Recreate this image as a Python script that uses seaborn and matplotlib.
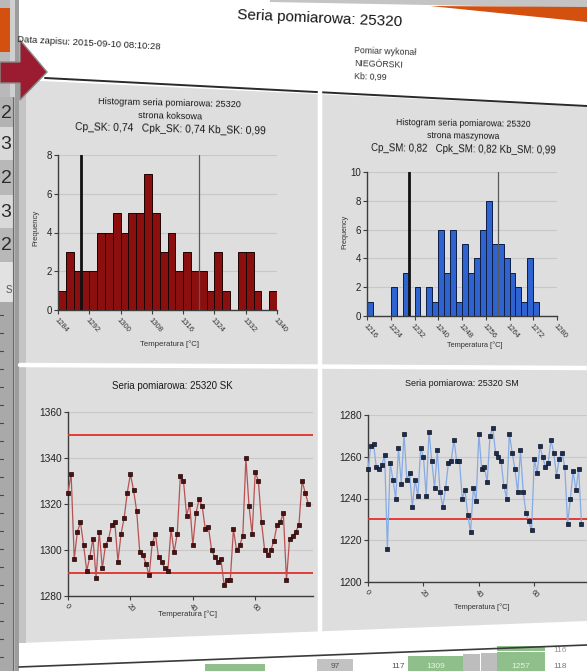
import numpy as np
import pandas as pd
import matplotlib
matplotlib.use("Agg")
import matplotlib.pyplot as plt
from matplotlib.patches import Polygon, Rectangle
import seaborn as sns

# ---- data -------------------------------------------------------------
series_id = "25320"

# histogram counts, 2 °C bins
sk_bin_start = 1284
sk_counts = [1, 3, 2, 2, 2, 4, 4, 5, 4, 5, 5, 7, 5, 3, 4, 2, 3, 2, 2, 1,
             3, 1, 0, 3, 3, 1, 0, 1]
sm_bin_start = 1216
sm_counts = [1, 0, 0, 0, 2, 0, 3, 0, 2, 0, 2, 1, 6, 3, 6, 1, 5, 3, 4, 6,
             8, 5, 5, 4, 3, 2, 1, 4, 1]
bin_width = 2

sk_xticks = [1284, 1292, 1300, 1308, 1316, 1324, 1332, 1340]
sm_xticks = [1216, 1224, 1232, 1240, 1248, 1256, 1264, 1272, 1280]

# measurement series (coke side / machine side)
sk_series = [1325, 1333, 1296, 1308, 1312, 1302, 1291, 1297, 1305, 1288,
             1308, 1292, 1302, 1305, 1311, 1312, 1295, 1307, 1314, 1325,
             1333, 1326, 1317, 1299, 1298, 1294, 1289, 1303, 1307, 1297,
             1295, 1292, 1291, 1309, 1299, 1307, 1332, 1330, 1315, 1320,
             1302, 1316, 1322, 1319, 1309, 1310, 1300, 1297, 1295, 1296,
             1285, 1287, 1287, 1309, 1300, 1302, 1306, 1340, 1319, 1307,
             1334, 1330, 1312, 1300, 1298, 1300, 1304, 1311, 1312, 1316,
             1287, 1305, 1306, 1308, 1311, 1330, 1325, 1320]
sm_series = [1254, 1265, 1266, 1255, 1254, 1256, 1261, 1216, 1257, 1249,
             1240, 1264, 1247, 1271, 1249, 1252, 1236, 1249, 1241, 1264,
             1260, 1241, 1272, 1258, 1245, 1263, 1243, 1236, 1245, 1257,
             1258, 1268, 1258, 1258, 1240, 1244, 1232, 1224, 1245, 1239,
             1271, 1254, 1255, 1248, 1270, 1274, 1262, 1260, 1258, 1246,
             1240, 1271, 1262, 1254, 1243, 1263, 1243, 1233, 1229, 1225,
             1259, 1252, 1265, 1260, 1255, 1257, 1268, 1262, 1251, 1259,
             1262, 1255, 1228, 1240, 1253, 1244, 1254, 1228]

sk_lsl, sk_usl, sk_ref = 1290, 1350, 1320
sm_lsl, sm_ref = 1230, 1260

sk_stats = "Cp_SK: 0,74   Cpk_SK: 0,74 Kb_SK: 0,99"
sm_stats = "Cp_SM: 0,82   Cpk_SM: 0,82 Kb_SM: 0,99"
saved_at = "Data zapisu: 2015-09-10 08:10:28"
operator = ["Pomiar wykonał", "NIEGÓRSKI", "Kb: 0,99"]

left_cells = ["2", "3", "2", "3", "2"]
table_vals = ["97", "117", "1309", "1257", "118"]

# ---- style ------------------------------------------------------------
sns.set_style("ticks")
plt.rcParams["font.family"] = ["Liberation Sans", "DejaVu Sans"]

W, H = 587, 671
fig = plt.figure(figsize=(W / 100, H / 100), dpi=100, facecolor="white")

bg = fig.add_axes([0, 0, 1, 1], zorder=0)
bg.set_xlim(0, W)
bg.set_ylim(H, 0)
bg.axis("off")


def box(l, t, r, b):
    return [l / W, 1 - b / H, (r - l) / W, (b - t) / H]


def poly(pts, **kw):
    bg.add_patch(Polygon(pts, closed=True, **kw))


# left spreadsheet strip
bg.add_patch(Rectangle((0, 0), 17, H, color="#b9b9b9", lw=0))
bg.add_patch(Rectangle((0, 8), 10, 44, color="#d4500f", lw=0))
bg.add_patch(Rectangle((10, 0), 7, 97, color="#cfcfcf", lw=0))
row_edges = [97, 127, 160, 195, 228, 262]
row_cols = ["#b3b3b3", "#d9d9d9", "#b8b8b8", "#d9d9d9", "#b8b8b8"]
for i, (txt, c) in enumerate(zip(left_cells, row_cols)):
    y0, y1 = row_edges[i], row_edges[i + 1]
    bg.add_patch(Rectangle((0, y0), 13, y1 - y0, color=c, lw=0))
    t = bg.text(6, (y0 + y1) / 2 + 1, txt, fontsize=14, ha="center",
                va="center", color="#2b2b2b")
    t.set_clip_path(Rectangle((0, y0), 12, y1 - y0, transform=bg.transData))
bg.add_patch(Rectangle((0, 262), 13, 40, color="#e2e2e2", lw=0))
bg.text(9, 290, "S", fontsize=7, color="#555555", ha="center", va="center")
bg.add_patch(Rectangle((0, 302), 13, H - 302, color="#a9a9a9", lw=0))
for yy in np.arange(315, H, 18):
    bg.plot([0, 3], [yy, yy], color="#444444", lw=0.8)
bg.plot([13, 13], [97, H], color="#6a6a6a", lw=0.8)
bg.add_patch(Rectangle((15, 0), 4, H, color="#9d9d9d", lw=0))

# top right tabs
poly([(270, 0), (W, 0), (W, 8), (270, 2)], color="#c4c4c4", lw=0)
poly([(430, 6), (W, 7), (W, 22)], color="#d4500f", lw=0)

# red arrow
poly([(0, 62), (20, 62), (20, 40), (47, 72), (20, 100), (20, 83), (0, 83)],
     facecolor="#9b1c30", edgecolor="#8a8a8a", lw=1.0, zorder=3)

# grey report body, white gutters
poly([(20, 80), (W, 107), (W, 621), (20, 643)], color="#dedede", lw=0)
bg.plot([45, W], [78, 106], color="#2a2a2a", lw=1.4)
bg.plot([320, 320], [90, 634], color="white", lw=3.2)
bg.plot([20, W], [365, 368], color="white", lw=3.2)
poly([(19, 80), (26, 80), (26, 643), (19, 643)], color="#c4c4c4", lw=0)

# bottom table strip
poly([(19, 667), (W, 645), (W, H), (19, H)], color="white", lw=0)
bg.plot([19, W], [667, 645], color="#3a3a3a", lw=1.2)
cells = [(205, 265, "#8fbf8a", None), (317, 353, "#c2c2c2", table_vals[0]),
         (408, 463, "#8fbf8a", table_vals[2]), (463, 480, "#bdbdbd", None),
         (481, 497, "#bdbdbd", None), (497, 545, "#8fbf8a", table_vals[3])]
for x0, x1, c, txt in cells:
    ytop = 667 - (x0 - 19) * 22 / (W - 19) + 4
    bg.add_patch(Rectangle((x0, ytop), x1 - x0, H - ytop, color=c, lw=0,
                           zorder=1))
    if txt:
        bg.text((x0 + x1) / 2, 667, txt, fontsize=6, ha="center",
                va="center", color="#e8f3e6" if c == "#8fbf8a" else "#555")
bg.add_patch(Rectangle((497, 646), 48, 5, color="#8fbf8a", lw=0))
bg.text(405, 666, table_vals[1], fontsize=6, ha="right", va="center",
        color="#555555")
bg.text(553, 666, table_vals[4], fontsize=6, ha="left", va="center",
        color="#777777")
bg.text(553, 651, "116", fontsize=6, ha="left", va="center", color="#999999")

# header
bg.text(320, 19, f"Seria pomiarowa: {series_id}", fontsize=11, ha="center",
        va="center", rotation=-2.5, rotation_mode="anchor", color="#151515")
bg.text(17, 40, saved_at, fontsize=6.8, ha="left", va="center",
        rotation=-3, rotation_mode="anchor", color="#222222")
for i, line in enumerate(operator):
    bg.text(354, 51 + 12.5 * i, line, fontsize=6.3, ha="left", va="center",
            rotation=-2, rotation_mode="anchor", color="#333333")

# ---- chart helpers ----------------------------------------------------
spine_col = "#3c3c3c"
grid_col = "#c8c8c8"


def style_axes(ax, xlabsize=5.5, ylabsize=7):
    ax.set_facecolor("none")
    for s in ("top", "right"):
        ax.spines[s].set_visible(False)
    for s in ("left", "bottom"):
        ax.spines[s].set_color(spine_col)
        ax.spines[s].set_linewidth(1.0)
    ax.yaxis.grid(True, color=grid_col, lw=0.8)
    ax.xaxis.grid(False)
    ax.set_axisbelow(True)
    ax.tick_params(axis="both", length=3, width=0.8, color=spine_col, pad=1.5)
    ax.tick_params(axis="y", labelsize=ylabsize, labelcolor="#222222")
    ax.tick_params(axis="x", labelsize=xlabsize, labelcolor="#333333",
                   labelrotation=-48)
    plt.setp(ax.get_xticklabels(), ha="left", va="top",
             rotation_mode="anchor")
    ax.set_xlabel("")
    ax.set_ylabel("")


def histogram(ax, start, counts, color, edge, lsl, ref, xticks, ymax, yticks):
    n = len(counts)
    df = pd.DataFrame({
        "temp": start + bin_width * (np.arange(n) + 0.5),
        "count": counts,
    })
    sns.histplot(data=df, x="temp", weights="count", binwidth=bin_width,
                 binrange=(start, start + bin_width * n), color=color,
                 edgecolor=edge, linewidth=0.7, alpha=1, ax=ax)
    ax.axvline(lsl, color="#111111", lw=2.0, zorder=5)
    ax.axvline(ref, color="#5a5a5a", lw=0.9, zorder=5)
    ax.set_xlim(xticks[0], xticks[-1])
    ax.set_ylim(0, ymax)
    ax.set_xticks(xticks)
    ax.set_yticks(yticks)
    style_axes(ax)


def series(ax, values, line_col, face, edge, limits, ylim, yticks, xmax):
    x = np.arange(len(values))
    sns.lineplot(x=x, y=values, ax=ax, color=line_col, lw=0.9, marker="s",
                 markersize=3.2, markerfacecolor=face, markeredgecolor=edge,
                 markeredgewidth=0.5, zorder=4, clip_on=False)
    for lim in limits:
        ax.axhline(lim, color="#e2312b", lw=1.3, zorder=3)
    ax.set_xlim(0, xmax)
    ax.set_ylim(*ylim)
    ax.set_xticks([0, 20, 40, 60])
    ax.set_yticks(yticks)
    style_axes(ax, xlabsize=5.5, ylabsize=7.3)


# ---- histograms -------------------------------------------------------
ax1 = fig.add_axes(box(58, 155, 277, 310), zorder=2)
histogram(ax1, sk_bin_start, sk_counts, "#8b0f0f", "#1c0202", sk_lsl, sk_ref,
          sk_xticks, 8, [0, 2, 4, 6, 8])

ax2 = fig.add_axes(box(367, 172, 557, 316), zorder=2)
histogram(ax2, sm_bin_start, sm_counts, "#2f63d0", "#0d1d45", sm_lsl, sm_ref,
          sm_xticks, 10, [0, 2, 4, 6, 8, 10])

# ---- series -----------------------------------------------------------
ax3 = fig.add_axes(box(68, 412, 313, 596), zorder=2)
series(ax3, sk_series, "#b85252", "#4a1212", "#240404", [sk_lsl, sk_usl],
       (1280, 1360), [1280, 1300, 1320, 1340, 1360], 78.5)

ax4 = fig.add_axes(box(368, 415, 587, 582), zorder=2)
series(ax4, sm_series, "#86aae4", "#1f2d4c", "#0c1428", [sm_lsl],
       (1200, 1280), [1200, 1220, 1240, 1260, 1280], 79)

# ---- panel titles and axis names --------------------------------------
hist_title = f"Histogram seria pomiarowa: {series_id}"
for cx, ys, side, stats, fs, rot in [
        (170, (103, 116, 129), "strona koksowa", sk_stats, 6.6, -1.3),
        (463, (123, 136, 149), "strona maszynowa", sm_stats, 6.2, -0.8)]:
    bg.text(cx, ys[0], hist_title, fontsize=fs, ha="center", va="center",
            rotation=rot, rotation_mode="anchor", color="#1a1a1a")
    bg.text(cx, ys[1], side, fontsize=fs, ha="center", va="center",
            rotation=rot, rotation_mode="anchor", color="#1a1a1a")
    bg.text(cx, ys[2], stats, fontsize=fs + 0.8, ha="center", va="center",
            rotation=rot, rotation_mode="anchor", color="#1a1a1a")

bg.text(36, 228, "Frequency", fontsize=5.5, rotation=90, ha="center",
        va="center", color="#333333")
bg.text(345, 232, "Frequency", fontsize=5.2, rotation=90, ha="center",
        va="center", color="#333333")

xlab = "Temperatura [°C]"
for cx, cy, fs in [(170, 344, 5.6), (475, 345, 5.3), (187, 614, 5.6),
                   (482, 607, 5.3)]:
    bg.text(cx, cy, xlab, fontsize=fs, ha="center", va="center",
            color="#333333")

bg.text(172, 386, f"Seria pomiarowa: {series_id} SK", fontsize=7,
        ha="center", va="center", color="#1a1a1a")
bg.text(462, 384, f"Seria pomiarowa: {series_id} SM", fontsize=6.5,
        ha="center", va="center", color="#1a1a1a")

fig.savefig("out.png", dpi=100, facecolor="white")
